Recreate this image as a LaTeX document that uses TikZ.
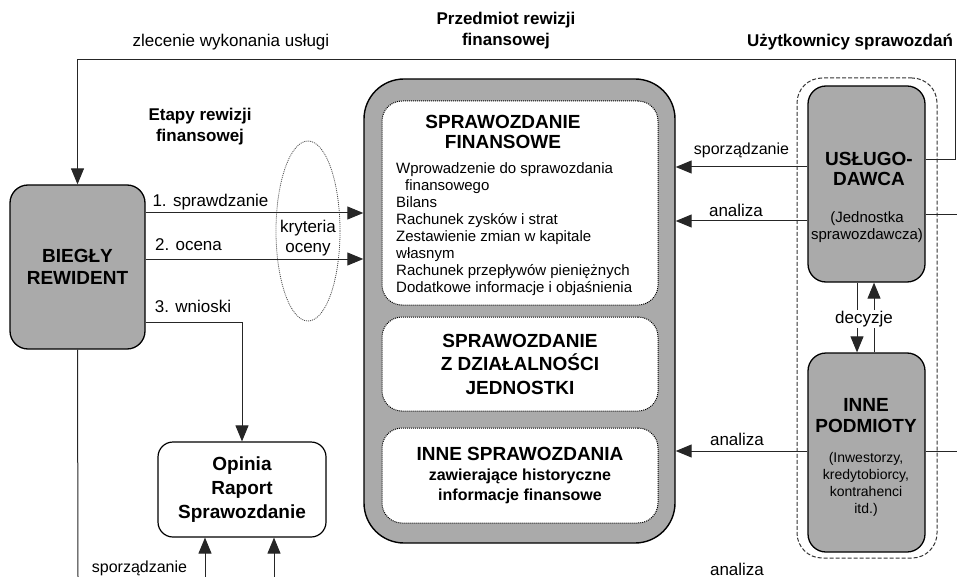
\documentclass[tikz,border=0pt]{standalone}
\usepackage{fontspec}
\setmainfont{Liberation Sans}
\usetikzlibrary{arrows.meta,shapes.geometric}
\definecolor{boxgray}{RGB}{170,170,170}
\begin{document}
\begin{tikzpicture}
	[	x=1pt,y=-1pt,
	ln/.style={draw=black!85,line width=1pt},
	arr/.style={ln,-{Triangle[length=16pt,width=13pt]}},
	graybox/.style={rectangle,rounded corners=18pt,draw=black,line width=1.3pt,fill=boxgray},
	innerbox/.style={rectangle,rounded corners=20pt,draw=black,line width=1pt,dash pattern=on 1pt off 1pt,fill=white,minimum width=276pt},
	lbl/.style={font=\fontsize{17}{20}\selectfont,inner sep=0pt},
	ttl/.style={font=\fontsize{17}{21}\selectfont\bfseries,align=center,inner sep=0pt},
	head/.style={font=\fontsize{19}{21}\selectfont\bfseries,align=center,inner sep=0pt},
	small/.style={font=\fontsize{15}{17}\selectfont,align=center,inner sep=0pt}
	]
	\useasboundingbox (0,0) rectangle (957,577);
	\node[ttl] (przedT) at (506,31) {Przedmiot rewizji\\finansowej};
	\node[ttl] (etapT) at (200,127) {Etapy rewizji\\finansowej};
	\node[ttl,anchor=base] (uzytT) at (850,47) {Użytkownicy sprawozdań};
	\node[lbl,anchor=base] (zlec) at (231,47) {zlecenie wykonania usługi};
	% audytor
	\node[graybox,minimum width=135pt,minimum height=164pt,font=\fontsize{19}{22}\selectfont\bfseries,align=center] (bieg) at (77.5,267) {BIEGŁY\\REWIDENT};
	\node[rectangle,rounded corners=15pt,draw=black,line width=1.2pt,fill=white,minimum width=168pt,minimum height=95pt,font=\fontsize{19}{24}\selectfont\bfseries,align=center] (opin) at (242,489.5) {Opinia\\Raport\\Sprawozdanie};
	\node[ellipse,draw=black!70,line width=0.8pt,dash pattern=on 1pt off 1pt,minimum width=64pt,minimum height=180pt,inner sep=0pt] (kryt) at (308,231) {};
	\node[lbl,align=center] (krytT) at (308,238) {kryteria\\oceny};
	% przedmiot rewizji
	\node[rectangle,rounded corners=40pt,draw=black,line width=1.4pt,fill=boxgray,minimum width=311pt,minimum height=464pt] (przed) at (519.5,311) {};
	\node[innerbox,minimum height=204pt] (sf) at (520,203) {};
	\node[head,font=\fontsize{19}{20}\selectfont\bfseries] (sfT) at (503,131.5) {SPRAWOZDANIE\\FINANSOWE};
	\foreach \t [count=\i from 0] in {Wprowadzenie do sprawozdania,\hspace*{9pt}finansowego,Bilans,Rachunek zysków i strat,Zestawienie zmian w kapitale,własnym,Rachunek przepływów pieniężnych,Dodatkowe informacje i objaśnienia}
		\node[font=\fontsize{15}{17}\selectfont,inner sep=0pt,anchor=base west] (sf\i) at (396,174+16.9*\i) {\t};
	\node[innerbox,minimum height=94pt,font=\fontsize{19}{23.5}\selectfont\bfseries,align=center] (sdj) at (520,364) {SPRAWOZDANIE\\Z DZIAŁALNOŚCI\\JEDNOSTKI};
	\node[innerbox,minimum height=95pt,font=\fontsize{16}{20}\selectfont\bfseries,align=center] (inne) at (520,475.5) {{\fontsize{19}{21}\selectfont INNE SPRAWOZDANIA}\\zawierające historyczne\\informacje finansowe};
	% uzytkownicy
	\node[rectangle,rounded corners=25pt,draw=black!80,line width=1pt,dash pattern=on 4pt off 2pt,minimum width=140pt,minimum height=480pt] (users) at (867,318) {};
	\node[graybox,minimum width=117pt,minimum height=196pt] (usl) at (866.5,184) {};
	\node[head,font=\fontsize{19}{20}\selectfont\bfseries] (uslT) at (869,169) {USŁUGO-\\DAWCA};
	\node[small] (uslS) at (867,227) {(Jednostka\\sprawozdawcza)};
	\node[graybox,minimum width=117pt,minimum height=199pt] (podm) at (866.5,452.5) {};
	\node[head,font=\fontsize{19}{21.5}\selectfont\bfseries] (podmT) at (866,415.5) {INNE\\PODMIOTY};
	\node[small,font=\fontsize{14}{17}\selectfont] (podmS) at (866,484) {(Inwestorzy,\\kredytobiorcy,\\kontrahenci\\itd.)};
	% polaczenia
	\draw[arr] (usl.east |- 0,160) -- (955,160) -- (955,60) -| (bieg.north);
	\draw[arr] (bieg.east |- 0,213) -- (przed.west |- 0,213);
	\draw[arr] (bieg.east |- 0,259) -- (przed.west |- 0,259);
	\draw[arr] (bieg.east |- 0,322) -| (opin.north);
	\node[lbl,anchor=base] (l1) at (210.5,207) {1. sprawdzanie};
	\node[lbl,anchor=base] (l2) at (188.5,251) {2. ocena};
	\node[lbl,anchor=base] (l3) at (193,312) {3. wnioski};
	\coordinate (botL) at (78,577);
	\coordinate (botA) at (205,577);
	\coordinate (botB) at (274,577);
	\draw[ln] (bieg.south) -- (botL);
	\draw[arr] (botA) -- (opin.south -| botA);
	\draw[arr] (botB) -- (opin.south -| botB);
	\node[lbl,anchor=base,font=\fontsize{16}{20}\selectfont] (sporzB) at (139.5,572) {sporządzanie};
	\draw[arr] (usl.west |- 0,167) -- (przed.east |- 0,167);
	\draw[arr] (usl.west |- 0,221) -- (przed.east |- 0,221);
	\draw[arr] (podm.west |- 0,451) -- (przed.east |- 0,451);
	\node[lbl,anchor=base,font=\fontsize{16}{20}\selectfont] (sporzA) at (741.5,155) {sporządzanie};
	\node[lbl,anchor=base] (anA) at (736,217) {analiza};
	\node[lbl,anchor=base] (anB) at (737,445) {analiza};
	\node[lbl,anchor=base] (anC) at (737,575) {analiza};
	\coordinate (outA) at (957,215);
	\coordinate (outB) at (957,451);
	\draw[ln] (usl.east |- outA) -- (outA);
	\draw[ln] (podm.east |- outB) -- (outB);
	\draw[arr] (usl.south -| 857,0) -- (podm.north -| 857,0);
	\draw[arr] (podm.north -| 874,0) -- (usl.south -| 874,0);
	\node[lbl,anchor=base,fill=white,inner sep=1pt] (dec) at (864,323) {decyzje};
\end{tikzpicture}
\end{document}
